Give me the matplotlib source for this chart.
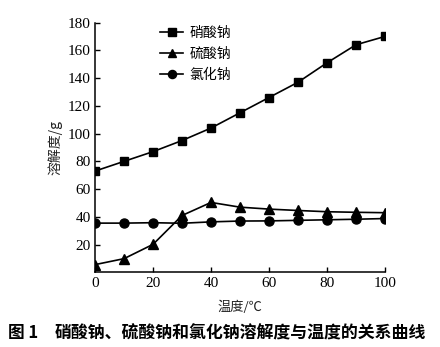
import matplotlib
matplotlib.use("Agg")
import matplotlib.pyplot as plt

temps = [0, 10, 20, 30, 40, 50, 60, 70, 80, 90, 100]
nano3 = [73, 80, 87, 95, 104, 115, 126, 137, 151, 164, 170]
na2so4 = [5.6, 9.9, 20.2, 41, 50.4, 47, 45.6, 44.6, 43.7, 43.3, 43]
nacl = [35.5, 35.5, 35.8, 35.4, 36.4, 37, 37.1, 37.5, 37.9, 38.3, 38.8]
series_names = ["硝酸钠", "硫酸钠", "氯化钠"]
xticks = [0, 20, 40, 60, 80, 100]
yticks = [20, 40, 60, 80, 100, 120, 140, 160, 180]

cjk = ['Noto Sans CJK SC', 'DejaVu Sans']
serif = ['Liberation Serif', 'DejaVu Serif']

fig = plt.figure(figsize=(4.4, 3.47), dpi=100)
ax = fig.add_axes([0.216, 0.215, 0.659, 0.72])

ax.plot(temps, nano3, '-s', color='black', lw=1.2, ms=6, label=series_names[0])
ax.plot(temps, na2so4, '-^', color='black', lw=1.2, ms=6.5, label=series_names[1])
ax.plot(temps, nacl, '-o', color='black', lw=1.2, ms=6.5, label=series_names[2])

ax.set_xlim(0, 100)
ax.set_ylim(0, 180)
ax.set_xticks(xticks)
ax.set_yticks(yticks)
ax.tick_params(direction='in', length=3.5, width=1, labelsize=11, pad=3)
for lab in ax.get_xticklabels() + ax.get_yticklabels():
    lab.set_family(serif)
for s in ['top', 'right']:
    ax.spines[s].set_visible(False)
for s in ['left', 'bottom']:
    ax.spines[s].set_linewidth(1.1)

ax.set_xlabel("温度/℃", family=cjk, fontsize=9.5, labelpad=8, color='#222222')
ax.set_ylabel("溶解度/g", family=cjk, fontsize=10, labelpad=4, color='#222222')

leg = ax.legend(loc='upper left', bbox_to_anchor=(0.18, 1.035), frameon=False,
                prop={'family': cjk, 'size': 10}, handlelength=1.7,
                handletextpad=0.45, labelspacing=0.48, markerscale=0.9)

fig.text(8 / 440, 1 - 333 / 347, "图 1", family=cjk, fontsize=12,
         fontweight='bold', va='center', ha='left')
fig.text(55 / 440, 1 - 333 / 347, "硝酸钠、硫酸钠和氯化钠溶解度与温度的关系曲线",
         family=cjk, fontsize=12.2, fontweight='bold', va='center', ha='left')

fig.savefig("out.png", dpi=100)
